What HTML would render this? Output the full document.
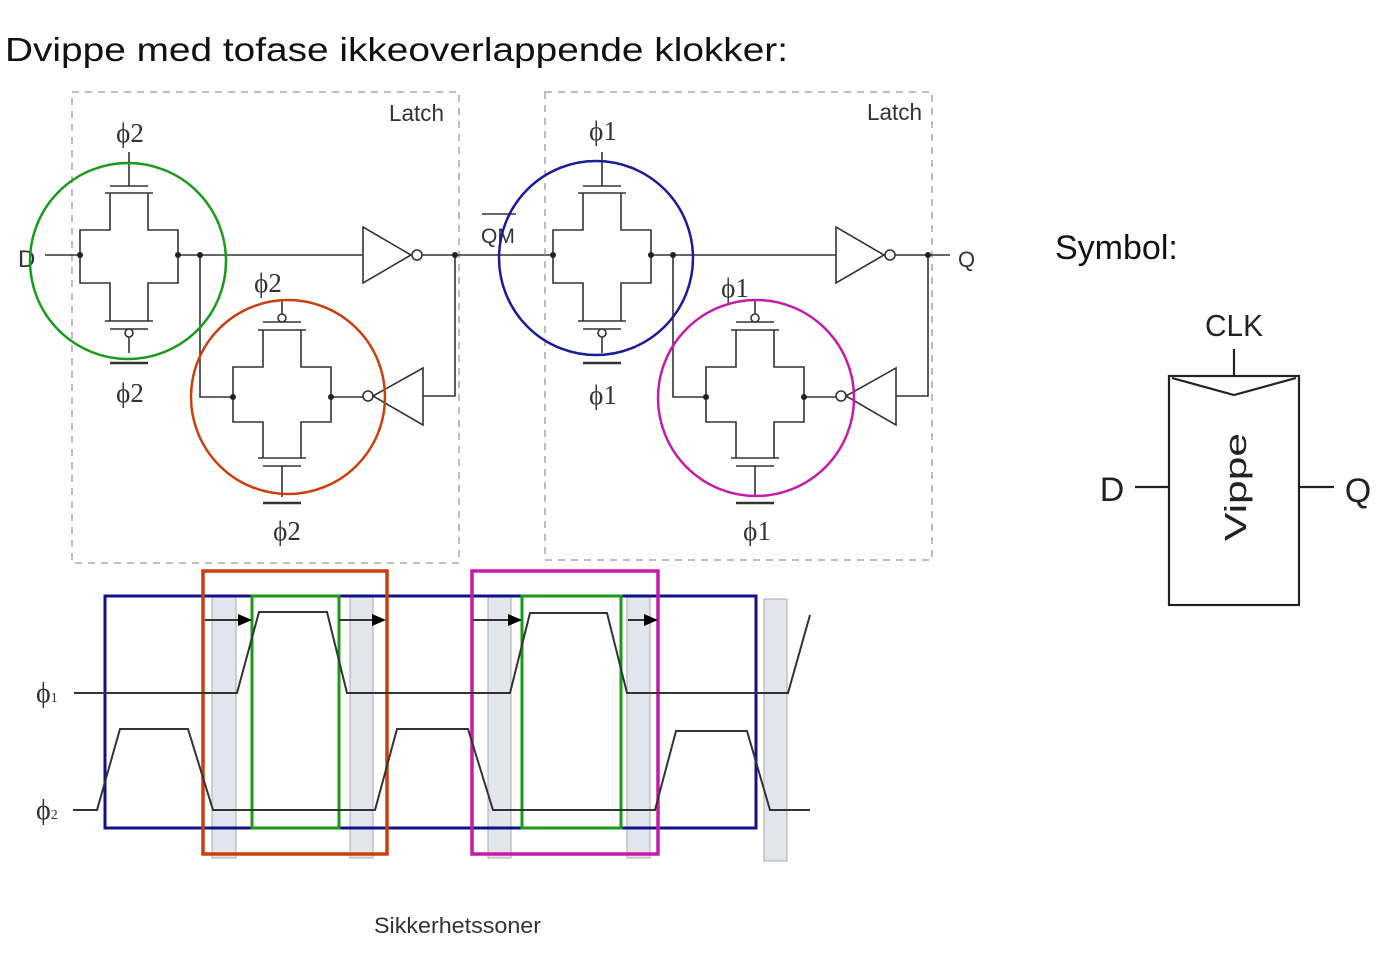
<!DOCTYPE html>
<html><head><meta charset="utf-8"><style>
html,body{margin:0;padding:0;background:#fff;width:1399px;height:955px;overflow:hidden}
svg{display:block}
.t{font-family:"Liberation Sans",sans-serif}
.s{font-family:"Liberation Serif",serif}
</style></head><body>
<svg width="1399" height="955" viewBox="0 0 1399 955" xmlns="http://www.w3.org/2000/svg">
<defs>
<g id="gA" fill="none" stroke="#333" stroke-width="1.6">
  <polyline points="30,-62 30,-25 0,-25 0,28 30,28 30,66"/>
  <polyline points="68,-62 68,-25 98,-25 98,28 68,28 68,66"/>
  <line x1="25" y1="-62" x2="73" y2="-62"/>
  <line x1="30" y1="-69" x2="68" y2="-69"/>
  <line x1="49" y1="-69" x2="49" y2="-103"/>
  <line x1="25" y1="66" x2="73" y2="66"/>
  <line x1="30" y1="74" x2="68" y2="74"/>
  <circle cx="49" cy="78" r="4" fill="#fff"/>
  <line x1="49" y1="82" x2="49" y2="98"/>
  <line x1="30" y1="108" x2="68" y2="108" stroke-width="2.4"/>
  <circle cx="0" cy="0" r="3" fill="#222" stroke="none"/>
  <circle cx="98" cy="0" r="3" fill="#222" stroke="none"/>
</g>
<g id="gB" fill="none" stroke="#333" stroke-width="1.6">
  <polyline points="30,-67 30,-30 0,-30 0,25 30,25 30,61"/>
  <polyline points="68,-67 68,-30 98,-30 98,25 68,25 68,61"/>
  <line x1="25" y1="-67" x2="73" y2="-67"/>
  <line x1="30" y1="-75" x2="68" y2="-75"/>
  <circle cx="49" cy="-79" r="4" fill="#fff"/>
  <line x1="49" y1="-83" x2="49" y2="-97"/>
  <line x1="25" y1="61" x2="73" y2="61"/>
  <line x1="30" y1="69" x2="68" y2="69"/>
  <line x1="49" y1="69" x2="49" y2="100"/>
  <line x1="30" y1="106" x2="68" y2="106" stroke-width="2.4"/>
  <circle cx="0" cy="0" r="3" fill="#222" stroke="none"/>
  <circle cx="98" cy="0" r="3" fill="#222" stroke="none"/>
</g>
</defs>

<text x="5" y="61" class="t" font-size="33" fill="#111" textLength="783" lengthAdjust="spacingAndGlyphs">Dvippe med tofase ikkeoverlappende klokker:</text>

<!-- Latch 1 -->
<rect x="72" y="92" width="387" height="471" fill="none" stroke="#999" stroke-width="1.3" stroke-dasharray="7,6"/>
<text x="389" y="121" class="t" font-size="23" fill="#333" textLength="55" lengthAdjust="spacingAndGlyphs">Latch</text>
<text x="18" y="267" class="t" font-size="24" fill="#333">D</text>
<g fill="none" stroke="#333" stroke-width="1.6">
  <line x1="45" y1="255" x2="80" y2="255"/>
  <line x1="178" y1="255" x2="363" y2="255"/>
  <polygon points="363,227 363,283 411,255"/>
  <circle cx="417" cy="255" r="5" fill="#fff"/>
  <line x1="422" y1="255" x2="553" y2="255"/>
  <polyline points="200,255 200,397 233,397"/>
  <line x1="331" y1="397" x2="363" y2="397"/>
  <circle cx="368" cy="396" r="5" fill="#fff"/>
  <polygon points="373,396 423,368 423,425"/>
  <polyline points="423,396 455,396 455,255"/>
</g>
<circle cx="200" cy="255" r="3" fill="#222"/>
<circle cx="455" cy="255" r="3" fill="#222"/>
<use href="#gA" x="80" y="255"/>
<use href="#gB" x="233" y="397"/>
<text x="130" y="142" class="s" font-size="27" fill="#333" text-anchor="middle">ϕ2</text>
<text x="130" y="402" class="s" font-size="27" fill="#333" text-anchor="middle">ϕ2</text>
<text x="268" y="292" class="s" font-size="27" fill="#333" text-anchor="middle">ϕ2</text>
<text x="287" y="540" class="s" font-size="27" fill="#333" text-anchor="middle">ϕ2</text>
<circle cx="128" cy="261" r="98" fill="none" stroke="#1a9a1a" stroke-width="2.5"/>
<circle cx="288" cy="397" r="97" fill="none" stroke="#c8400e" stroke-width="2.5"/>

<text x="481" y="243" class="t" font-size="21" fill="#333">QM</text>
<line x1="482" y1="214" x2="516" y2="214" stroke="#333" stroke-width="1.5"/>

<!-- Latch 2 -->
<rect x="545" y="92" width="387" height="468" fill="none" stroke="#999" stroke-width="1.3" stroke-dasharray="7,6"/>
<text x="867" y="120" class="t" font-size="23" fill="#333" textLength="55" lengthAdjust="spacingAndGlyphs">Latch</text>
<g transform="translate(473,0)">
<g fill="none" stroke="#333" stroke-width="1.6">
  <line x1="178" y1="255" x2="363" y2="255"/>
  <polygon points="363,227 363,283 411,255"/>
  <circle cx="417" cy="255" r="5" fill="#fff"/>
  <line x1="422" y1="255" x2="477" y2="255"/>
  <polyline points="200,255 200,397 233,397"/>
  <line x1="331" y1="397" x2="363" y2="397"/>
  <circle cx="368" cy="396" r="5" fill="#fff"/>
  <polygon points="373,396 423,368 423,425"/>
  <polyline points="423,396 455,396 455,255"/>
</g>
<circle cx="200" cy="255" r="3" fill="#222"/>
<circle cx="455" cy="255" r="3" fill="#222"/>
<use href="#gA" x="80" y="255"/>
<use href="#gB" x="233" y="397"/>
<text x="130" y="140" class="s" font-size="27" fill="#333" text-anchor="middle">ϕ1</text>
<text x="130" y="404" class="s" font-size="27" fill="#333" text-anchor="middle">ϕ1</text>
<text x="262" y="297" class="s" font-size="27" fill="#333" text-anchor="middle">ϕ1</text>
<text x="284" y="540" class="s" font-size="27" fill="#333" text-anchor="middle">ϕ1</text>
</g>
<text x="958" y="267" class="t" font-size="22" fill="#333">Q</text>
<circle cx="596" cy="258" r="97" fill="none" stroke="#1a1a9a" stroke-width="2.5"/>
<circle cx="756" cy="398" r="98" fill="none" stroke="#c81aa8" stroke-width="2.5"/>

<!-- Timing -->
<g fill="#e3e6ec" stroke="#aaa" stroke-width="1">
  <rect x="212" y="596" width="24" height="262"/>
  <rect x="350" y="596" width="23" height="262"/>
  <rect x="488" y="596" width="23" height="262"/>
  <rect x="627" y="596" width="23" height="262"/>
  <rect x="764" y="599" width="23" height="262"/>
</g>
<rect x="105" y="596" width="651" height="232" fill="none" stroke="#10108a" stroke-width="3"/>
<rect x="203" y="571" width="184" height="283" fill="none" stroke="#c8400e" stroke-width="3.5"/>
<rect x="472" y="571" width="186" height="283" fill="none" stroke="#c81aa8" stroke-width="3.5"/>
<rect x="252" y="596" width="87" height="232" fill="none" stroke="#1a9a1a" stroke-width="3"/>
<rect x="522" y="596" width="99" height="232" fill="none" stroke="#1a9a1a" stroke-width="3"/>
<g fill="none" stroke="#333" stroke-width="2">
  <polyline points="74,693 237,693 259,612 327,612 347,693 510,693 530,613 607,613 627,693 788,693 810,615"/>
  <polyline points="73,810 97,810 120,729 188,729 213,810 375,810 397,729 468,729 493,810 655,810 676,731 747,731 770,810 810,810"/>
  <line x1="205" y1="620" x2="240" y2="620"/>
  <line x1="339" y1="620" x2="374" y2="620"/>
  <line x1="473" y1="620" x2="510" y2="620"/>
  <line x1="628" y1="620" x2="646" y2="620"/>
</g>
<g fill="#000">
  <polygon points="238,614 252,620 238,626"/>
  <polygon points="372,614 386,620 372,626"/>
  <polygon points="508,614 522,620 508,626"/>
  <polygon points="644,614 658,620 644,626"/>
</g>
<text x="36" y="702" class="s" font-size="28" fill="#333">ϕ<tspan font-size="14">1</tspan></text>
<text x="36" y="819" class="s" font-size="28" fill="#333">ϕ<tspan font-size="14">2</tspan></text>
<text x="374" y="933" class="t" font-size="22" fill="#333" textLength="167" lengthAdjust="spacingAndGlyphs">Sikkerhetssoner</text>

<!-- Symbol -->
<text x="1055" y="259" class="t" font-size="34" fill="#111">Symbol:</text>
<text x="1234" y="336" class="t" font-size="31" fill="#222" text-anchor="middle" textLength="58" lengthAdjust="spacingAndGlyphs">CLK</text>
<g fill="none" stroke="#222" stroke-width="2.2">
  <rect x="1169" y="376" width="130" height="229"/>
  <line x1="1234" y1="349" x2="1234" y2="376"/>
  <polyline points="1172,378 1234,395 1296,378"/>
  <line x1="1135" y1="487" x2="1169" y2="487"/>
  <line x1="1299" y1="487" x2="1334" y2="487"/>
</g>
<text x="1112" y="501" class="t" font-size="34" fill="#222" text-anchor="middle">D</text>
<text x="1358" y="502" class="t" font-size="34" fill="#222" text-anchor="middle">Q</text>
<text transform="translate(1246,487) rotate(-90)" class="t" font-size="31" fill="#222" text-anchor="middle" textLength="108" lengthAdjust="spacingAndGlyphs">Vippe</text>
</svg>
</body></html>
